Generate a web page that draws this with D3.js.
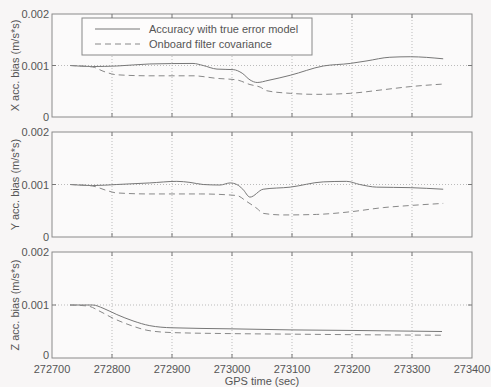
<!doctype html>
<html>
<head>
<script src="https://d3js.org/d3.v7.min.js"></script>
<style>
body { margin: 0; background: #f8f6f6; }
text { font-family: "Liberation Sans", Arial, sans-serif; fill: #555; }
</style>
</head>
<body>
<svg width="491" height="387"></svg>
<script>
// GPS time samples (sec) and the three panels' series
var xTicks = [272700, 272800, 272900, 273000, 273100, 273200, 273300, 273400];
var yTicks = [0, 0.001, 0.002];
var yTickLabels = ["0", "0.001", "0.002"];
var yLabels = ["X acc. bias (m/s*s)", "Y acc. bias (m/s*s)", "Z acc. bias (m/s*s)"];
var legendLabels = ["Accuracy with true error model", "Onboard filter covariance"];

var xTrueT = [272730, 272768, 272808, 272863, 272935, 272952, 272975, 273002, 273017, 273030, 273042, 273060, 273097, 273152, 273197, 273225, 273263, 273297, 273352];
var xTrueV = [0.00100, 0.00098, 0.00099, 0.00103, 0.00104, 0.00100, 0.00093, 0.00092, 0.00085, 0.00072, 0.00067, 0.00071, 0.00081, 0.00099, 0.00104, 0.00109, 0.00116, 0.00117, 0.00113];
var xCovT = [272730, 272768, 272785, 272808, 272863, 272935, 272975, 273008, 273030, 273047, 273058, 273097, 273141, 273197, 273252, 273297, 273352];
var xCovV = [0.00100, 0.00097, 0.00089, 0.00082, 0.00080, 0.00080, 0.00075, 0.00072, 0.00063, 0.00058, 0.00051, 0.00046, 0.00044, 0.00046, 0.00053, 0.00059, 0.00064];

var yTrueT = [272730, 272768, 272808, 272863, 272908, 272930, 272952, 272980, 272997, 273008, 273018, 273030, 273052, 273097, 273152, 273191, 273213, 273241, 273297, 273352];
var yTrueV = [0.00100, 0.00098, 0.00100, 0.00103, 0.00106, 0.00104, 0.00100, 0.00099, 0.00103, 0.00100, 0.00091, 0.00076, 0.00091, 0.00095, 0.00105, 0.00106, 0.00100, 0.00095, 0.00094, 0.00091];
var yCovT = [272730, 272768, 272790, 272808, 272863, 272947, 273008, 273024, 273042, 273052, 273086, 273141, 273197, 273252, 273297, 273352];
var yCovV = [0.00100, 0.00097, 0.00089, 0.00084, 0.00082, 0.00082, 0.00079, 0.00068, 0.00054, 0.00045, 0.00042, 0.00043, 0.00048, 0.00056, 0.00060, 0.00064];

var zTrueT = [272730, 272768, 272785, 272808, 272835, 272863, 272900, 273000, 273100, 273200, 273350];
var zTrueV = [0.00100, 0.00100, 0.00094, 0.00082, 0.00070, 0.00061, 0.00057, 0.00055, 0.00053, 0.00052, 0.00050];
var zCovT = [272730, 272760, 272780, 272800, 272830, 272860, 272900, 273000, 273100, 273200, 273350];
var zCovV = [0.00100, 0.00098, 0.00088, 0.00076, 0.00062, 0.00052, 0.00048, 0.00046, 0.00045, 0.00044, 0.00043];

var series = [
  [xTrueT, xTrueV, xCovT, xCovV],
  [yTrueT, yTrueV, yCovT, yCovV],
  [zTrueT, zTrueV, zCovT, zCovV]
];

var svg = d3.select("svg");
var left = 52, right = 472;
var panels = [[14, 117], [132, 237], [252, 358]];

var xScale = d3.scaleLinear().domain([272700, 273400]).range([left, right]);

panels.forEach(function(p, i) {
  var yScale = d3.scaleLinear().domain([0, 0.002]).range([p[1], p[0]]);
  var g = svg.append("g");

  // plot area + frame
  g.append("rect")
    .attr("x", left).attr("y", p[0])
    .attr("width", right - left).attr("height", p[1] - p[0])
    .attr("fill", "#fbfafa").attr("stroke", "#8a8a8a").attr("stroke-width", 1);

  // dotted grid
  g.selectAll(".vg").data(xTicks.slice(1, -1)).enter().append("line")
    .attr("x1", d => xScale(d)).attr("x2", d => xScale(d))
    .attr("y1", p[0]).attr("y2", p[1])
    .attr("stroke", "#bbb").attr("stroke-dasharray", "1,2");
  g.append("line")
    .attr("x1", left).attr("x2", right)
    .attr("y1", yScale(0.001)).attr("y2", yScale(0.001))
    .attr("stroke", "#bbb").attr("stroke-dasharray", "1,2");

  // inward ticks
  xTicks.slice(1, -1).forEach(function(t) {
    g.append("line").attr("x1", xScale(t)).attr("x2", xScale(t))
      .attr("y1", p[1]).attr("y2", p[1] - 4).attr("stroke", "#777");
    g.append("line").attr("x1", xScale(t)).attr("x2", xScale(t))
      .attr("y1", p[0]).attr("y2", p[0] + 4).attr("stroke", "#777");
  });
  g.append("line").attr("x1", left).attr("x2", left + 4)
    .attr("y1", yScale(0.001)).attr("y2", yScale(0.001)).attr("stroke", "#777");
  g.append("line").attr("x1", right).attr("x2", right - 4)
    .attr("y1", yScale(0.001)).attr("y2", yScale(0.001)).attr("stroke", "#777");

  // y tick labels (bottom "0" nudged up to clear the x labels)
  yTicks.forEach(function(v, k) {
    var dy = (i === 2 && v === 0) ? 1 : 4;
    g.append("text")
      .attr("x", left - 3).attr("y", yScale(v) + dy)
      .attr("text-anchor", "end").style("font-size", "11px")
      .text(yTickLabels[k]);
  });

  // y label
  g.append("text")
    .attr("transform", "translate(19," + ((p[0] + p[1]) / 2) + ")rotate(-90)")
    .attr("text-anchor", "middle").style("font-size", "11px")
    .text(yLabels[i]);

  var s = series[i];
  var line = d3.line().x(d => xScale(d[0])).y(d => yScale(d[1])).curve(d3.curveMonotoneX);
  g.append("path")
    .attr("d", line(d3.zip(s[0], s[1])))
    .attr("fill", "none").attr("stroke", "#777").attr("stroke-width", 1);
  g.append("path")
    .attr("d", line(d3.zip(s[2], s[3])))
    .attr("fill", "none").attr("stroke", "#888").attr("stroke-width", 1)
    .attr("stroke-dasharray", "6,4");
});

// x tick labels on bottom panel
xTicks.forEach(function(t) {
  svg.append("text")
    .attr("x", xScale(t)).attr("y", 373)
    .attr("text-anchor", "middle").style("font-size", "11px")
    .text(t);
});
svg.append("text")
  .attr("x", 262).attr("y", 385)
  .attr("text-anchor", "middle").style("font-size", "11px")
  .text("GPS time (sec)");

// legend
var lg = svg.append("g");
lg.append("rect").attr("x", 82).attr("y", 18).attr("width", 230).attr("height", 37)
  .attr("fill", "#fdfcfc").attr("stroke", "#888");
[29, 44].forEach(function(yy, k) {
  lg.append("line").attr("x1", 95).attr("x2", 140).attr("y1", yy).attr("y2", yy)
    .attr("stroke", k ? "#888" : "#777")
    .attr("stroke-dasharray", k ? "6,4" : null);
  lg.append("text").attr("x", 149).attr("y", yy + 4)
    .style("font-size", "11px").text(legendLabels[k]);
});
</script>
</body>
</html>
